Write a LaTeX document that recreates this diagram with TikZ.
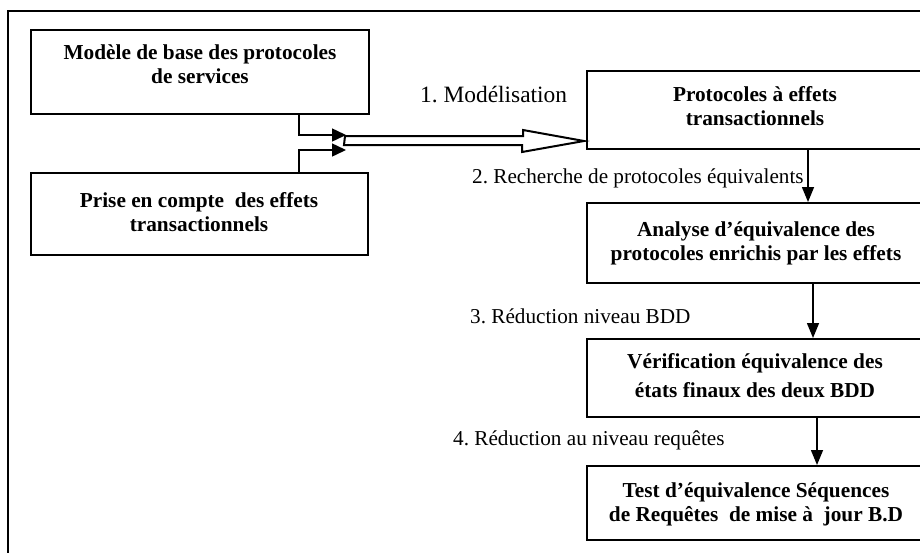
\documentclass[tikz,border=0pt]{standalone}
\usepackage{fontspec}
\setmainfont{Liberation Serif}
\frenchspacing
\usetikzlibrary{arrows.meta,calc}
\tikzset{
  box/.style={draw=black,line width=2pt,rectangle,inner sep=0pt},
  btxt/.style={inner sep=0pt,anchor=north,align=center,font=\bfseries\fontsize{21.3}{24}\selectfont},
  lbl/.style={inner sep=0pt,anchor=base west,font=\fontsize{21.2}{24}\selectfont},
  conn/.style={line width=1.5pt,draw=black},
  vtip/.style={-{Triangle[length=15pt,width=12pt]}},
  htip/.style={-{Triangle[length=14pt,width=13pt]}},
  frame/.style={line width=1.5pt,draw=black}
}
\begin{document}
\begin{tikzpicture}[x=1pt,y=-1pt]
\useasboundingbox (0,0) rectangle (920,552);
\draw[frame] (8,570) -- (8,11) -- (935,11);
% boxes
\node[box,minimum width=338pt,minimum height=84pt] (b1) at (200,72) {};
\node[box,minimum width=337pt,minimum height=82pt] (b2) at (199.5,214) {};
\node[box,minimum width=338pt,minimum height=78pt] (b3) at (756,110) {};
\node[box,minimum width=338pt,minimum height=80pt] (b4) at (756,243) {};
\node[box,minimum width=338pt,minimum height=78pt] (b5) at (756,378) {};
\node[box,minimum width=338pt,minimum height=74pt] (b6) at (756,503) {};
% box texts
\node[btxt] (t1) at (200,44) {Modèle de base des protocoles\\de services};
\node[btxt] (t2) at (199,192) {Prise en compte~ des effets\\transactionnels};
\node[btxt] (t3) at (755,86) {Protocoles à effets\\transactionnels};
\node[btxt] (t4) at (756,221) {Analyse d’équivalence des\\protocoles enrichis par les effets};
\node[btxt,font=\bfseries\fontsize{21.3}{29.5}\selectfont] (t5) at (755,353) {Vérification équivalence des\\états finaux des deux BDD};
\node[btxt] (t6) at (756,482) {Test d’équivalence Séquences\\de Requêtes~ de mise à~ jour B.D};
% labels
\node[lbl,font=\fontsize{23.4}{26}\selectfont] (l1) at (420,102) {1. Modélisation};
\node[lbl] (l2) at (472,183) {2. Recherche de protocoles équivalents};
\node[lbl] (l3) at (470,323) {3. Réduction niveau BDD};
\node[lbl] (l4) at (453,445) {4. Réduction au niveau requêtes};
% junction arrows
\coordinate (ja) at (346,135);
\coordinate (jb) at (346,150);
\draw[conn,htip] ($(b1.south)+(99,0)$) |- (ja);
\draw[conn,htip] ($(b2.north)+(99.5,0)$) |- (jb);
% hollow modelling arrow
\coordinate (mt) at (345,140);
\coordinate (tip) at ($(b3.south west)+(-2,-9)$);
\draw[line width=2pt,line join=miter] ($(mt)+(0,-4)$) -- ++(178,0) -- ++(0,-6) -- (tip) -- ++(-62,11) -- ++(0,-7) -- ++(-178,0) -- cycle;
% vertical arrows
\draw[conn,vtip] ($(b3.south)+(52,0)$) -- ($(b4.north)+(52,0)$);
\draw[conn,vtip] ($(b4.south)+(57,0)$) -- ($(b5.north)+(57,0)$);
\draw[conn,vtip] ($(b5.south)+(61,0)$) -- ($(b6.north)+(61,0)$);
\end{tikzpicture}
\end{document}
